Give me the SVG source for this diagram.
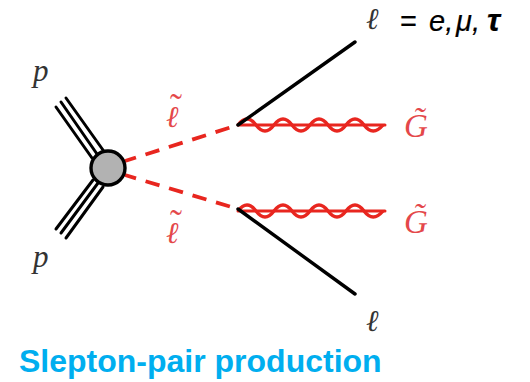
<svg xmlns="http://www.w3.org/2000/svg" width="530" height="382" viewBox="0 0 530 382">
<style>
.f{fill:none;stroke:#000;stroke-width:3.4;stroke-linecap:round}
.p{fill:none;stroke:#000;stroke-width:3;stroke-linecap:round}
.s{fill:none;stroke:#e8261f;stroke-width:3.8;stroke-dasharray:14.5 10;stroke-dashoffset:3}
.g{fill:none;stroke:#e8261f;stroke-width:3;stroke-linecap:round}
.w{fill:none;stroke:#e8261f;stroke-width:3.4}
.it{font-family:"Liberation Serif",serif;font-style:italic;font-size:31px}
.l{font-family:"DejaVu Serif","Liberation Serif",serif;font-size:30px;font-style:italic}
.gr{font-family:"Liberation Serif",serif;font-style:italic;font-size:33px}
.t{font-family:"Liberation Serif",serif;font-style:normal;font-size:36px}
.r{fill:#e4474a}
.k{fill:#333}
</style>
<rect width="530" height="382" fill="#fff"/>
<g id="connectors">
<g id="proton-top"><path class="p" d="M66 98L103 150M61 102L97 154M56 107L92 158"/></g>
<g id="proton-bottom"><path class="p" d="M56 229L93 180M61 233L98 183M66 238L103 187"/></g>
<path class="s" d="M125 161L238 125"/>
<path class="s" d="M125 175L238 209"/>
<path class="g" d="M238 125H385"/>
<path class="w" d="M238 125q9 -12 18 0t18 0t18 0t18 0t18 0t18 0t18 0t19 0"/>
<path class="g" d="M238 211H385"/>
<path class="w" d="M238 211q9 -12 18 0t18 0t18 0t18 0t18 0t18 0t18 0t19 0"/>
<path class="f" d="M238 125L355 42"/>
<path class="f" d="M238 209L355 294"/>
</g>
<g id="vertex"><circle cx="108" cy="168" r="17" fill="#b2b2b2" stroke="#000" stroke-width="3.4"/></g>
<g id="label-p-top"><text class="it k" x="33" y="81">p</text></g>
<g id="label-p-bottom"><text class="it k" x="33" y="267">p</text></g>
<g id="label-slepton-top"><text class="l r" x="166" y="127">ℓ<tspan class="t" x="170" y="119">˜</tspan></text></g>
<g id="label-slepton-bottom"><text class="l r" x="166" y="243">ℓ<tspan class="t" x="170" y="235">˜</tspan></text></g>
<g id="label-gravitino-top"><text class="gr r" x="404" y="137">G̃</text></g>
<g id="label-gravitino-bottom"><text class="gr r" x="404" y="233">G̃</text></g>
<g id="label-lepton-top"><text class="l k" x="366" y="29">ℓ</text></g>
<g id="label-lepton-bottom"><text class="l k" x="366" y="331">ℓ</text></g>
<g id="label-flavours"><text y="31" font-family="Liberation Sans,sans-serif" font-size="29" font-style="italic" stroke="#000" stroke-width="0.2"><tspan x="400" font-style="normal">=</tspan><tspan x="429">e,</tspan><tspan x="456">μ,</tspan><tspan x="487" font-weight="bold" font-size="32">τ</tspan></text></g>
<g id="title"><text x="19" y="372" font-family="Liberation Sans,sans-serif" font-size="32" font-weight="bold" fill="#00aeef">Slepton-pair production</text></g>
</svg>
